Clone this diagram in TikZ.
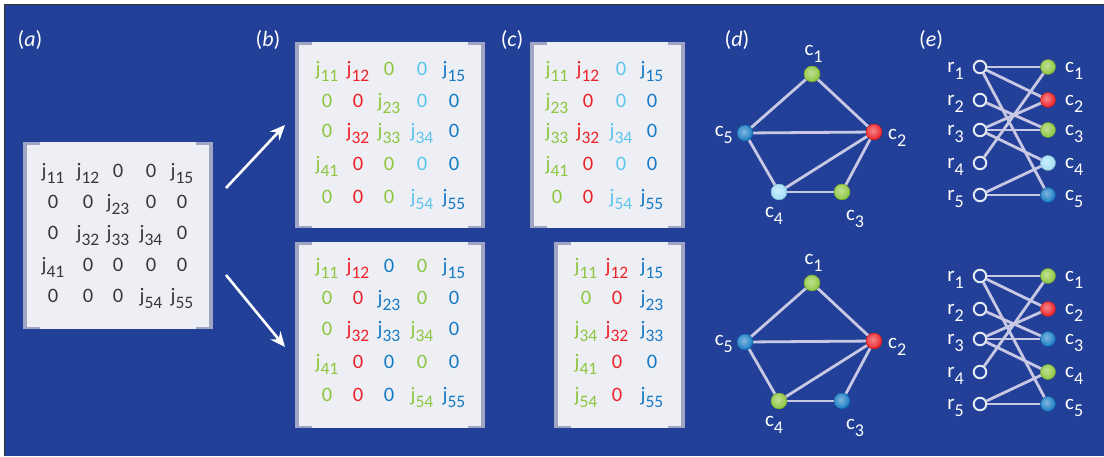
\documentclass[tikz,border=0pt]{standalone}
\usepackage{fontspec}
\setmainfont{Carlito}
\usetikzlibrary{arrows.meta}

\definecolor{bgblue}{RGB}{34,64,152}
\definecolor{gn}{RGB}{141,198,63}
\definecolor{rd}{RGB}{237,34,40}
\definecolor{cy}{RGB}{92,197,238}
\definecolor{cyb}{RGB}{160,222,246}
\definecolor{bl}{RGB}{22,122,196}
\definecolor{dk}{RGB}{55,55,60}
\definecolor{boxfill}{RGB}{238,238,245}
\definecolor{boxbar}{RGB}{160,165,195}
\definecolor{edgecol}{RGB}{200,200,228}

\pgfdeclarelayer{back}
\pgfdeclarelayer{edges}
\pgfsetlayers{back,edges,main}

% entry j_{ik} with a large, lowered index
\newcommand\J[1]{j\raisebox{-6pt}{\fontsize{17.5}{17.5}\selectfont#1}}
% subscripted graph label
\newcommand\lab[2]{#1\raisebox{-7pt}{\fontsize{18}{18}\selectfont#2}}

% one matrix row: name prefix, baseline, list of x/colour/text
\newcommand\mrow[3]{%
  \foreach \xx/\cc/\tt [count=\i] in {#3}
    \node[ent,text=\cc] (#1-\i) at (\xx,#2) {\tt};}

% light panel with bracket bars on both sides
\newcommand\panel[4]{%
  \fill[boxfill] (#1,#2) rectangle (#3,#4);
  \fill[boxbar] (#1,#2) rectangle ++(4,#4-#2);
  \fill[boxbar] (#1,#2) rectangle ++(17,2.5);
  \fill[boxbar] (#1,#4) rectangle ++(17,-2.5);
  \fill[boxbar] (#3,#2) rectangle ++(-4.5,#4-#2);
  \fill[boxbar] (#3,#2) rectangle ++(-17,2.5);
  \fill[boxbar] (#3,#4) rectangle ++(-17,-2.5);}

\tikzset{
  ent/.style={anchor=base,inner sep=0pt,font=\fontsize{20.5}{20.5}\selectfont},
  tag/.style={text=white,inner sep=0pt,font=\fontsize{22}{22}\selectfont},
  lbl/.style={text=white,inner sep=0pt,font=\fontsize{21}{21}\selectfont},
  glossy/.style={circle,inner sep=0pt,fill=#1,draw=#1!75!black,line width=0.4pt,
    path picture={\shade[inner color=white!45!#1,outer color=#1]
      ([shift={(-1.5pt,1.8pt)}]path picture bounding box.center) circle (9pt);}},
  ball/.style={glossy=#1,minimum size=16pt},
  cnode/.style={glossy=#1,minimum size=15pt},
  rnode/.style={circle,minimum size=12.5pt,inner sep=0pt,draw=white!88!bgblue,line width=2pt,fill=bgblue},
  link/.style={draw=edgecol,line width=2.8pt},
  flow/.style={draw=white,line width=2.6pt,-{Stealth[length=15pt,width=13pt]}}
}

\begin{document}
\begin{tikzpicture}[x=1pt,y=-1pt]
\useasboundingbox (0,0) rectangle (1104,456);
\begin{pgfonlayer}{back}
  \fill[white] (0,0) rectangle (1104,456);
  \fill[bgblue] (4,4) rectangle (1104,456);
  \draw[black!80,line width=1pt] (4,456) -- (4,4) -- (1104,4);
\end{pgfonlayer}

% panel tags
\node[tag] (ta) at (30,40) {(\textit{a})};
\node[tag] (tb) at (268,40) {(\textit{b})};
\node[tag] (tc) at (512,40) {(\textit{c})};
\node[tag] (td) at (737,40) {(\textit{d})};
\node[tag] (te) at (931,40) {(\textit{e})};

% (a) the sparse matrix
\panel{23}{142}{213}{329}
\mrow{a1}{177}{53/dk/\J{11}, 88/dk/\J{12}, 118/dk/0, 151/dk/0, 182/dk/\J{15}}
\mrow{a2}{208}{53/dk/0, 88/dk/0, 118/dk/\J{23}, 151/dk/0, 182/dk/0}
\mrow{a3}{239}{53/dk/0, 88/dk/\J{32}, 118/dk/\J{33}, 151/dk/\J{34}, 182/dk/0}
\mrow{a4}{271}{53/dk/\J{41}, 88/dk/0, 118/dk/0, 151/dk/0, 182/dk/0}
\mrow{a5}{302}{53/dk/0, 88/dk/0, 118/dk/0, 151/dk/\J{54}, 182/dk/\J{55}}

% arrows to the two colourings
\coordinate (s1) at (226,188);
\coordinate (e1) at (285,125);
\coordinate (s2) at (226,275);
\coordinate (e2) at (285,347);
\draw[flow] (s1) -- (e1);
\draw[flow] (s2) -- (e2);

% (b) top: coloured columns
\panel{295}{42}{485}{228}
\mrow{b1}{75}{327/gn/\J{11}, 358/rd/\J{12}, 389/gn/0, 422/cy/0, 454/bl/\J{15}}
\mrow{b2}{107}{327/gn/0, 358/rd/0, 389/gn/\J{23}, 422/cy/0, 454/bl/0}
\mrow{b3}{137}{327/gn/0, 358/rd/\J{32}, 389/gn/\J{33}, 422/cy/\J{34}, 454/bl/0}
\mrow{b4}{170}{327/gn/\J{41}, 358/rd/0, 389/gn/0, 422/cy/0, 454/bl/0}
\mrow{b5}{203}{327/gn/0, 358/rd/0, 389/gn/0, 422/cy/\J{54}, 454/bl/\J{55}}

% (b) bottom
\panel{295}{242}{485}{428}
\mrow{bb1}{272}{327/gn/\J{11}, 358/rd/\J{12}, 389/bl/0, 422/gn/0, 454/bl/\J{15}}
\mrow{bb2}{304}{327/gn/0, 358/rd/0, 389/bl/\J{23}, 422/gn/0, 454/bl/0}
\mrow{bb3}{335}{327/gn/0, 358/rd/\J{32}, 389/bl/\J{33}, 422/gn/\J{34}, 454/bl/0}
\mrow{bb4}{368}{327/gn/\J{41}, 358/rd/0, 389/bl/0, 422/gn/0, 454/bl/0}
\mrow{bb5}{401}{327/gn/0, 358/rd/0, 389/bl/0, 422/gn/\J{54}, 454/bl/\J{55}}

% (c) top: compressed matrix
\panel{530}{42}{685}{228}
\mrow{c1}{75}{557/gn/\J{11}, 588/rd/\J{12}, 621/cy/0, 652/bl/\J{15}}
\mrow{c2}{107}{557/gn/\J{23}, 588/rd/0, 621/cy/0, 652/bl/0}
\mrow{c3}{137}{557/gn/\J{33}, 588/rd/\J{32}, 621/cy/\J{34}, 652/bl/0}
\mrow{c4}{170}{557/gn/\J{41}, 588/rd/0, 621/cy/0, 652/bl/0}
\mrow{c5}{203}{557/gn/0, 588/rd/0, 621/cy/\J{54}, 652/bl/\J{55}}

% (c) bottom
\panel{554}{242}{685}{428}
\mrow{cc1}{272}{586/gn/\J{11}, 617/rd/\J{12}, 652/bl/\J{15}}
\mrow{cc2}{304}{586/gn/0, 617/rd/0, 652/bl/\J{23}}
\mrow{cc3}{335}{586/gn/\J{34}, 617/rd/\J{32}, 652/bl/\J{33}}
\mrow{cc4}{368}{586/gn/\J{41}, 617/rd/0, 652/bl/0}
\mrow{cc5}{401}{586/gn/\J{54}, 617/rd/0, 652/bl/\J{55}}

% (d) column intersection graphs
\foreach \p/\dy/\ca/\cb/\cc/\cd/\ce in {t/0/gn/rd/gn/cyb/bl, u/209/gn/rd/bl/gn/bl} {
  \node[ball=\ca] (\p c1) at (812,74+\dy) {};
  \node[ball=\cb] (\p c2) at (874,132+\dy) {};
  \node[ball=\cc] (\p c3) at (842,192+\dy) {};
  \node[ball=\cd] (\p c4) at (779,192+\dy) {};
  \node[ball=\ce] (\p c5) at (745,133+\dy) {};
  \begin{pgfonlayer}{edges}
    \foreach \a/\b in {1/2,1/5,5/2,5/4,4/2,4/3,3/2}
      \draw[link] (\p c\a.center) -- (\p c\b.center);
  \end{pgfonlayer}
  \path (\p c1) ++(1.5,-19) node[lbl,anchor=base] (\p l1) {\lab{c}{1}};
  \path (\p c2) ++(14,7) node[lbl,anchor=base west] (\p l2) {\lab{c}{2}};
  \path (\p c3) ++(13,28) node[lbl,anchor=base] (\p l3) {\lab{c}{3}};
  \path (\p c4) ++(-5,25) node[lbl,anchor=base] (\p l4) {\lab{c}{4}};
  \path (\p c5) ++(-12,3) node[lbl,anchor=base east] (\p l5) {\lab{c}{5}};
}

% (e) bipartite row/column graphs
\foreach \p/\dy/\ca/\cb/\cc/\cd/\ce in {t/0/gn/rd/gn/cyb/bl, u/209/gn/rd/bl/gn/bl} {
  \foreach \k/\yy/\col in {1/67/\ca, 2/100/\cb, 3/130/\cc, 4/163/\cd, 5/195/\ce} {
    \node[rnode] (\p r\k) at (980,\yy+\dy) {};
    \node[cnode=\col] (\p k\k) at (1048,\yy+\dy) {};
    \path (\p r\k) ++(-16,5) node[lbl,anchor=base east] (\p rl\k) {\lab{r}{\k}};
    \path (\p k\k) ++(17,5) node[lbl,anchor=base west] (\p kl\k) {\lab{c}{\k}};
  }
  \begin{pgfonlayer}{edges}
    \foreach \a/\b in {1/1,1/2,1/5,2/3,3/2,3/3,3/4,4/1,5/4,5/5}
      \draw[link] (\p r\a) -- (\p k\b.center);
  \end{pgfonlayer}
}
\end{tikzpicture}
\end{document}
